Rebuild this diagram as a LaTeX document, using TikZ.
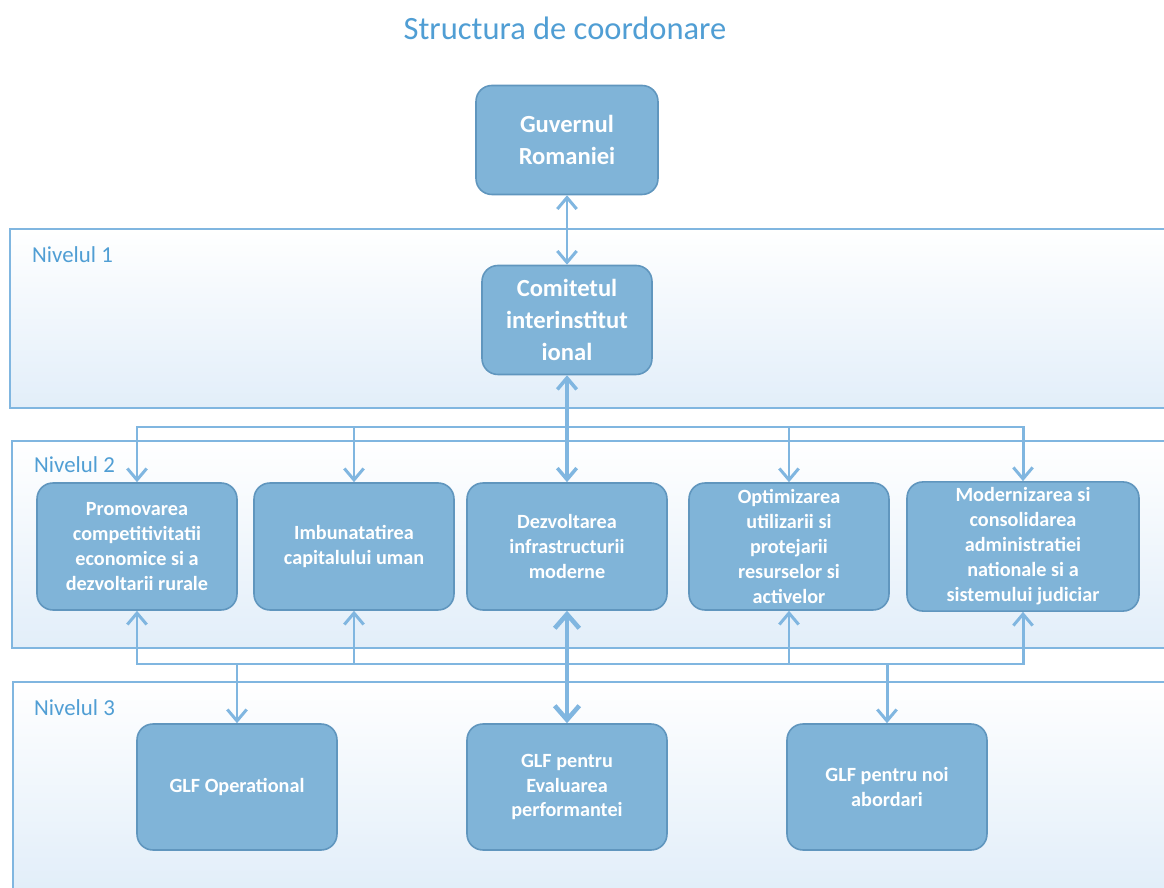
\documentclass[tikz,border=0pt]{standalone}
\usepackage{fontspec}
\setmainfont{Carlito}
\usetikzlibrary{arrows.meta}
\definecolor{boxfill}{RGB}{128,180,216}
\definecolor{boxdraw}{RGB}{96,150,190}
\definecolor{linie}{RGB}{128,182,224}
\definecolor{textblue}{RGB}{80,158,212}
\definecolor{fond}{RGB}{226,238,249}
\tikzstyle{box} = [rectangle, rounded corners=9pt, minimum width=4cm, minimum height=2.54cm, align=center, fill=boxfill, draw=boxdraw, line width=0.9pt, text=white, font=\fontsize{11.5}{14.2}\selectfont\bfseries]
\tikzstyle{topbox} = [box, minimum width=3.64cm, minimum height=2.18cm, font=\fontsize{14}{18}\selectfont\bfseries]
\tikzstyle{nivel} = [anchor=west, text=textblue, font=\fontsize{13}{15}\selectfont]
\tikzstyle{titlu} = [text=textblue, font=\fontsize{18.5}{22}\selectfont]
\tikzstyle{frame} = [draw=linie, line width=0.7pt]
\tikzstyle{arrow} = [draw=linie, line width=1.7pt, ->, >={Straight Barb[length=6.5pt,width=11pt]}]
\tikzstyle{dblarrow} = [arrow, <->]
\tikzstyle{thickarrow} = [draw=linie, line width=2.6pt, <->, >={Straight Barb[length=8pt,width=14pt]}]

\begin{document}
\begin{tikzpicture}[x=0.02cm, y=-0.02cm]
    \useasboundingbox (0,0) rectangle (1164,888);
    \fill [white] (0,0) rectangle (1164,888);

    \shade [top color=white, middle color=white, bottom color=fond] (10,229) rectangle (1164,408);
    \shade [top color=white, middle color=white, bottom color=fond] (12,441) rectangle (1164,648);
    \shade [top color=white, middle color=white, bottom color=fond] (13,682) rectangle (1164,888);
    \draw [frame] (1164,229) -| (10,408) -- (1164,408);
    \draw [frame] (1164,441) -| (12,648) -- (1164,648);
    \draw [frame] (1164,682) -| (13,888);

    \node [titlu] at (565,28) (titlu) {Structura de coordonare};
    \node [nivel] at (26,255) (niv1) {Nivelul 1};
    \node [nivel] at (28,465) (niv2) {Nivelul 2};
    \node [nivel] at (28,708) (niv3) {Nivelul 3};

    \node [topbox] at (567,140) (guv) {Guvernul\\Romaniei};
    \node [topbox, minimum width=3.4cm] at (567,320) (com) {Comitetul\\interinstitut\\ional};

    \node [box] at (137,546.5) (prom) {Promovarea\\competitivitatii\\economice si a\\dezvoltarii rurale};
    \node [box] at (354,546.5) (imbun) {Imbunatatirea\\capitalului uman};
    \node [box] at (567,546.5) (dezv) {Dezvoltarea\\infrastructurii\\moderne};
    \node [box] at (789,546.5) (optim) {Optimizarea\\utilizarii si\\protejarii\\resurselor si\\activelor};
    \node [box, minimum width=4.64cm] at (1023,546.5) (modern) {Modernizarea si\\consolidarea\\administratiei\\nationale si a\\sistemului judiciar};

    \node [box, minimum height=2.52cm] at (237,787) (glfop) {GLF Operational};
    \node [box, minimum height=2.52cm] at (567,787) (glfev) {GLF pentru\\Evaluarea\\performantei};
    \node [box, minimum height=2.52cm] at (887,787) (glfnoi) {GLF pentru noi\\abordari};

    \coordinate (sus) at (567,427);
    \coordinate (jos) at (567,664);

    \draw [dblarrow] (guv) -- (com);
    \draw [dblarrow, line width=2pt] (com) -- (dezv);
    \draw [arrow] (sus) -| (prom);
    \draw [arrow] (sus) -| (imbun);
    \draw [arrow] (sus) -| (optim);
    \draw [arrow] (sus) -| (modern);
    \draw [arrow] (jos) -| (prom);
    \draw [arrow] (jos) -| (imbun);
    \draw [arrow] (jos) -| (optim);
    \draw [arrow] (jos) -| (modern);
    \draw [thickarrow] (dezv) -- (glfev);
    \draw [arrow] (jos) -| (glfop);
    \draw [arrow] (jos) -| (glfnoi);
\end{tikzpicture}
\end{document}
